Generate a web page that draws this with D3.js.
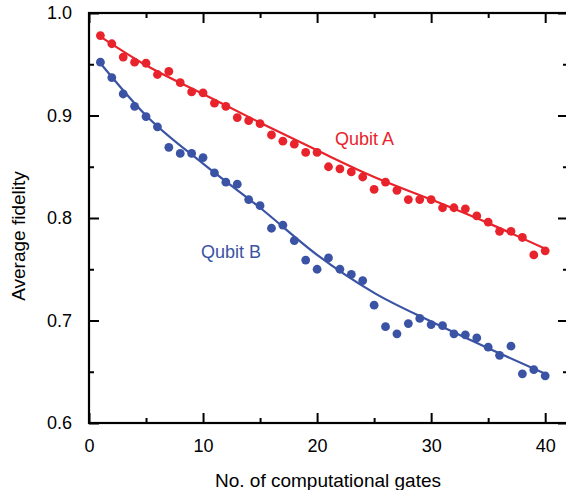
<!DOCTYPE html>
<html>
<head>
<meta charset="utf-8">
<script src="https://cdn.jsdelivr.net/npm/d3@7"></script>
<style>
  body { margin: 0; background: #fff; }
  svg text { font-family: "Liberation Sans", Arial, Helvetica, sans-serif; }
</style>
</head>
<body>
<div id="chart"></div>
<script>
// gate counts
var gates = d3.range(1, 41);

// measured fidelity, qubit A (red)
var qubitA = [0.978, 0.970, 0.957, 0.952, 0.951, 0.940, 0.943, 0.932, 0.923, 0.922,
  0.912, 0.909, 0.898, 0.895, 0.892, 0.881, 0.875, 0.872, 0.864, 0.864,
  0.850, 0.848, 0.845, 0.840, 0.828, 0.835, 0.827, 0.818, 0.818, 0.818,
  0.810, 0.810, 0.809, 0.802, 0.796, 0.787, 0.787, 0.781, 0.764, 0.768];

// measured fidelity, qubit B (blue)
var qubitB = [0.952, 0.937, 0.921, 0.909, 0.899, 0.889, 0.869, 0.863, 0.863, 0.859,
  0.844, 0.835, 0.833, 0.818, 0.812, 0.790, 0.793, 0.778, 0.759, 0.750,
  0.761, 0.750, 0.745, 0.739, 0.715, 0.694, 0.687, 0.697, 0.702, 0.696,
  0.695, 0.687, 0.686, 0.683, 0.674, 0.666, 0.675, 0.648, 0.652, 0.646];

// fit curves
var fitX = [1, 5, 10, 15, 20, 25, 30, 35, 40];
var fitA = [0.977, 0.949, 0.921, 0.893, 0.866, 0.840, 0.818, 0.795, 0.770];
var fitB = [0.951, 0.900, 0.853, 0.810, 0.764, 0.727, 0.699, 0.673, 0.648];

var xMajor = [0, 10, 20, 30, 40];
var xMinor = [5, 15, 25, 35];
var yMajor = [0.6, 0.7, 0.8, 0.9, 1.0];
var yMinor = [0.65, 0.75, 0.85, 0.95];

var red = "#e8232b", blue = "#3a53a4";

var W = 566, H = 490;
var m = { left: 89, right: 568, top: 13, bottom: 423 };

var svg = d3.select("#chart").append("svg")
  .attr("width", W)
  .attr("height", H);

var x = d3.scaleLinear().domain([0, 42]).range([m.left, m.right]);
var y = d3.scaleLinear().domain([0.6, 1.0]).range([m.bottom, m.top]);

var fmt = d3.format(".1f");

function styleAxis(g) {
  g.select(".domain").remove();
  g.selectAll("line").attr("stroke", "#000").attr("stroke-width", 2);
  g.selectAll("text").attr("font-size", "18px").attr("fill", "#000");
}

// bottom
svg.append("g").attr("transform", "translate(0," + m.bottom + ")")
  .call(d3.axisBottom(x).tickValues(xMajor).tickSize(-10).tickPadding(16).tickFormat(d3.format("d")))
  .call(styleAxis);
svg.append("g").attr("transform", "translate(0," + m.bottom + ")")
  .call(d3.axisBottom(x).tickValues(xMinor).tickSize(-5).tickFormat(""))
  .call(styleAxis);
// top
svg.append("g").attr("transform", "translate(0," + m.top + ")")
  .call(d3.axisTop(x).tickValues(xMajor).tickSize(-10).tickFormat(""))
  .call(styleAxis);
svg.append("g").attr("transform", "translate(0," + m.top + ")")
  .call(d3.axisTop(x).tickValues(xMinor).tickSize(-5).tickFormat(""))
  .call(styleAxis);
// left
svg.append("g").attr("transform", "translate(" + m.left + ",0)")
  .call(d3.axisLeft(y).tickValues(yMajor).tickSize(-10).tickPadding(17).tickFormat(fmt))
  .call(styleAxis);
svg.append("g").attr("transform", "translate(" + m.left + ",0)")
  .call(d3.axisLeft(y).tickValues(yMinor).tickSize(-5).tickFormat(""))
  .call(styleAxis);
// right
svg.append("g").attr("transform", "translate(" + m.right + ",0)")
  .call(d3.axisRight(y).tickValues(yMajor).tickSize(-10).tickFormat(""))
  .call(styleAxis);
svg.append("g").attr("transform", "translate(" + m.right + ",0)")
  .call(d3.axisRight(y).tickValues(yMinor).tickSize(-5).tickFormat(""))
  .call(styleAxis);

// frame
svg.append("rect")
  .attr("x", m.left).attr("y", m.top)
  .attr("width", m.right - m.left).attr("height", m.bottom - m.top)
  .attr("fill", "none").attr("stroke", "#000").attr("stroke-width", 2.2);

// fit lines
var line = d3.line()
  .x(function (d) { return x(d[0]); })
  .y(function (d) { return y(d[1]); })
  .curve(d3.curveMonotoneX);

[[fitA, red], [fitB, blue]].forEach(function (s) {
  svg.append("path")
    .datum(d3.zip(fitX, s[0]))
    .attr("d", line)
    .attr("fill", "none")
    .attr("stroke", s[1])
    .attr("stroke-width", 2.2);
});

// points
[[qubitA, red], [qubitB, blue]].forEach(function (s) {
  svg.append("g").selectAll("circle")
    .data(d3.zip(gates, s[0]))
    .enter().append("circle")
    .attr("cx", function (d) { return x(d[0]); })
    .attr("cy", function (d) { return y(d[1]); })
    .attr("r", 4.4)
    .attr("fill", s[1]);
});

// series labels
svg.append("text").attr("x", 335).attr("y", 145)
  .attr("font-size", "18px").attr("fill", red).text("Qubit A");
svg.append("text").attr("x", 201).attr("y", 258)
  .attr("font-size", "18px").attr("fill", blue).text("Qubit B");

// axis titles
svg.append("text")
  .attr("x", 328).attr("y", 487)
  .attr("text-anchor", "middle").attr("font-size", "19px")
  .text("No. of computational gates");
svg.append("text")
  .attr("transform", "translate(25,236) rotate(-90)")
  .attr("text-anchor", "middle").attr("font-size", "19px")
  .text("Average fidelity");
</script>
</body>
</html>
